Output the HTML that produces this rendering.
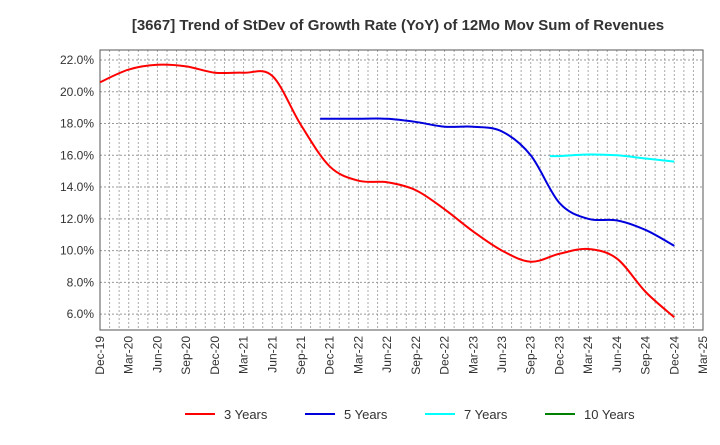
<!DOCTYPE html>
<html><head><meta charset="utf-8"><style>
body{margin:0;background:#fff;font-family:"Liberation Sans",sans-serif}
</style></head><body>
<svg id="chart" width="720" height="440" xmlns="http://www.w3.org/2000/svg" font-family="Liberation Sans, sans-serif">
<text x="398" y="30" text-anchor="middle" font-size="15" font-weight="bold" fill="#333">[3667]  Trend of StDev of Growth Rate (YoY) of 12Mo Mov Sum of Revenues</text>
<g id="grid"></g><g id="axes"></g><g id="series"></g><g id="legend"></g>
</svg>
<script>
const xLabels=["Dec-19","Mar-20","Jun-20","Sep-20","Dec-20","Mar-21","Jun-21","Sep-21","Dec-21","Mar-22","Jun-22","Sep-22","Dec-22","Mar-23","Jun-23","Sep-23","Dec-23","Mar-24","Jun-24","Sep-24","Dec-24","Mar-25"];
const yTicks=[6,8,10,12,14,16,18,20,22];
const seriesNames=["3 Years","5 Years","7 Years","10 Years"];
const seriesColors=["#ff0000","#0000dd","#00ffff","#008000"];
const red=[20.6,21.4,21.7,21.6,21.2,21.2,21.0,17.9,15.3,14.4,14.3,13.8,12.6,11.2,10.0,9.3,9.8,10.1,9.5,7.4,5.8];
const blue=[18.3,18.3,18.3,18.1,17.8,17.8,17.5,16.0,13.0,12.0,11.9,11.3,10.3];
const cyan=[15.95,16.05,16.0,15.8,15.6];
const green=[];
const starts=[0,8,16,20];
const L=100,R=703,T=50,B=330,yMin=5,yMax=22.63;
const qW=(R-L)/21;
const X=q=>L+q*qW, Y=v=>B-(v-yMin)/(yMax-yMin)*(B-T);
const ns="http://www.w3.org/2000/svg";
function mk(p,t,a){const e=document.createElementNS(ns,t);for(const k in a)e.setAttribute(k,a[k]);p.appendChild(e);return e;}
const grid=document.getElementById('grid'),axes=document.getElementById('axes'),ser=document.getElementById('series'),leg=document.getElementById('legend');
for(let m=1;m<63;m++){const x=L+m*qW/3;const l=mk(grid,'line',{x1:x,x2:x,y1:T,y2:B,stroke:'#aaa','stroke-dasharray':'2,2','stroke-width':1});

}
yTicks.forEach(v=>{const y=Y(v);const l=mk(grid,'line',{x1:L,x2:R,y1:y,y2:y,stroke:'#999','stroke-dasharray':'2,2'});


const t=mk(axes,'text',{x:L-6,y:y+4,'text-anchor':'end','font-size':12,fill:'#333'});t.textContent=v.toFixed(1)+'%';

});
const fr=mk(axes,'rect',{x:L,y:T,width:R-L,height:B-T,fill:'none',stroke:'#555'});


xLabels.forEach((s,i)=>{const x=X(i);const t=mk(axes,'text',{transform:`translate(${x+4},${B+6}) rotate(-90)`,'text-anchor':'end','font-size':12,fill:'#333'});t.textContent=s;

});
function path(d,s,lead){const p=d.map((v,i)=>[X(s+i),Y(v)]);if(p.length<2)return'';let str=`M${p[0][0]-(lead||0)},${p[0][1]} L${p[0][0]},${p[0][1]}`;
for(let i=0;i<p.length-1;i++){const p0=p[i-1]||p[i],p1=p[i],p2=p[i+1],p3=p[i+2]||p2;
str+=` C${p1[0]+(p2[0]-p0[0])/6},${p1[1]+(p2[1]-p0[1])/6} ${p2[0]-(p3[0]-p1[0])/6},${p2[1]-(p3[1]-p1[1])/6} ${p2[0]},${p2[1]}`;}return str;}
const leads=[0,qW/3,qW/3,0];
[red,blue,cyan,green].forEach((d,k)=>{const dd=path(d,starts[k],leads[k]);if(!dd)return;const p=mk(ser,'path',{d:dd,fill:'none',stroke:seriesColors[k],'stroke-width':2});

});
const lx=[185,305,425,545];
seriesNames.forEach((n,k)=>{const g=mk(leg,'g',{});


mk(g,'line',{x1:lx[k],x2:lx[k]+30,y1:414,y2:414,stroke:seriesColors[k],'stroke-width':2});
const t=mk(g,'text',{x:lx[k]+39,y:419,'font-size':13,fill:'#333'});t.textContent=n;});
</script>
</body></html>
